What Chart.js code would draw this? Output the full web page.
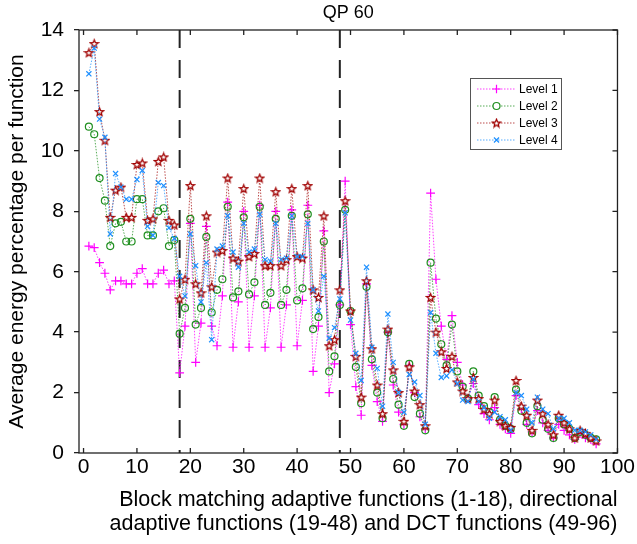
<!DOCTYPE html>
<html>
<head>
<meta charset="utf-8">
<title>QP 60</title>
<script src="https://cdn.jsdelivr.net/npm/chart.js@4.4.1/dist/chart.umd.min.js"></script>
<style>
  html, body { margin: 0; padding: 0; background: #fff; }
  #wrap { width: 637px; height: 544px; }
</style>
</head>
<body>
<div id="wrap"><canvas id="chart" width="637" height="544"></canvas></div>
<script>
// --- Data ---
const functionIndex = Array.from({ length: 96 }, (_, i) => i + 1);

const level1 = [
  6.85, 6.8, 6.3, 5.95, 5.4, 5.7, 5.7, 5.6, 5.6, 5.95, 6.1, 5.6, 5.6, 5.95, 6.05, 5.6, 5.7, 2.65,
  4.2, 7.6, 3.0, 4.3, 7.5, 4.2, 3.55, 5.2, 8.3, 3.5, 5.0, 8.0, 3.5, 5.2, 8.2, 3.5, 4.8, 8.0,
  3.5, 4.9, 8.05, 3.55, 5.05, 8.2, 2.7, 4.2, 7.35, 2.0, 2.95, 4.9,
  9.0, 4.25, 2.2, 1.25, 5.6, 2.9, 1.7, 1.05, 4.0, 2.25, 1.35, 0.95, 2.9, 2.0, 1.2, 0.8, 8.6, 5.75,
  4.2, 3.1, 4.55, 3.0, 2.25, 1.8, 2.3, 1.6, 1.3, 1.1, 1.5, 0.95, 0.8, 0.65, 1.9, 1.45, 0.95,
  0.7, 1.4, 1.0, 0.75, 0.5, 0.95, 0.75, 0.6, 0.45, 0.65, 0.5, 0.45, 0.3
];
const level2 = [
  10.8, 10.55, 9.1, 8.35, 6.85, 7.6, 7.65, 7.0, 7.0, 8.4, 8.4, 7.2, 7.2, 8.0, 8.1, 6.85, 7.05, 3.95,
  4.8, 7.75, 4.25, 4.8, 7.15, 4.65, 5.4, 5.75, 8.15, 5.15, 5.35, 7.8, 5.25, 5.65, 8.15, 4.9, 5.3, 7.75,
  4.9, 5.4, 7.85, 5.05, 5.45, 7.9, 4.1, 4.5, 7.0, 2.7, 3.2, 4.9,
  8.05, 4.7, 2.85, 1.65, 5.5, 3.1, 2.0, 1.15, 4.0, 2.45, 1.6, 0.9, 2.95, 1.85, 1.3, 0.75, 6.3, 4.45,
  3.6, 2.9, 4.25, 2.7, 2.2, 1.8, 2.7, 1.9, 1.55, 1.35, 1.85, 1.1, 0.9, 0.8, 2.1, 1.4, 1.0,
  0.65, 1.55, 1.1, 0.8, 0.5, 1.15, 0.95, 0.8, 0.5, 0.7, 0.6, 0.5, 0.45
];
const level3 = [
  13.25, 13.55, 11.3, 10.35, 7.8, 8.7, 8.8, 7.8, 7.8, 9.55, 9.6, 7.7, 7.75, 9.65, 9.8, 7.7, 7.55, 5.1,
  5.75, 8.85, 5.6, 5.3, 7.85, 5.5, 6.65, 6.7, 9.1, 6.45, 6.35, 8.75, 6.5, 6.6, 9.1, 6.2, 6.2, 8.65,
  6.2, 6.4, 8.75, 6.5, 6.45, 8.85, 5.4, 5.15, 7.85, 3.55, 3.75, 5.4,
  8.35, 4.7, 3.2, 1.85, 5.7, 3.45, 2.25, 1.3, 4.1, 2.75, 2.0, 1.05, 2.85, 2.05, 1.6, 0.9, 5.15, 4.0,
  3.35, 2.8, 3.2, 2.35, 2.05, 1.8, 2.5, 1.8, 1.45, 1.3, 1.75, 1.05, 0.9, 0.85, 2.4, 1.55, 1.25,
  0.75, 1.75, 1.3, 0.95, 0.6, 1.25, 1.0, 0.8, 0.5, 0.75, 0.65, 0.5, 0.4
];
const level4 = [
  12.55, 13.4, 11.05, 10.45, 7.25, 9.25, 8.8, 8.4, 8.4, 9.05, 9.35, 7.5, 7.2, 8.95, 8.85, 7.45, 7.1, 5.85,
  5.2, 7.25, 6.2, 5.0, 6.3, 3.75, 6.75, 6.85, 7.85, 6.65, 6.15, 7.6, 6.65, 6.75, 7.9, 6.4, 6.35, 7.6,
  6.4, 6.45, 7.85, 6.5, 6.5, 7.6, 5.4, 4.7, 5.85, 3.8, 4.15, 5.1,
  7.95, 4.4, 3.3, 2.4, 6.15, 3.5, 2.8, 1.55, 4.6, 3.0, 2.0, 1.35, 2.6, 2.35, 1.9, 0.95, 4.65, 3.3,
  2.5, 2.55, 2.75, 2.3, 1.75, 1.7, 2.45, 1.7, 1.5, 1.15, 1.35, 1.2, 1.1, 0.75, 2.0, 1.9, 1.45,
  1.0, 1.85, 1.45, 1.3, 0.8, 1.15, 1.15, 1.0, 0.75, 0.75, 0.7, 0.6, 0.45
];

const groupBounds = [18, 48];
const xTickValues = [0, 10, 20, 30, 40, 50, 60, 70, 80, 90, 100];
const yTickValues = [0, 2, 4, 6, 8, 10, 12, 14];

// --- Style ---
const fontFamily = "'Liberation Sans', Arial, Helvetica, sans-serif";
const axisColor = '#222';
const magenta = '#ff00ff', green = '#1f8f1f', darkRed = '#a00000', blue = '#1e90ff';

function starImage(color) {
    const size = 11;
    const c = document.createElement('canvas');
    c.width = size; c.height = size;
    const ctx = c.getContext('2d');
    const cx = size / 2, cy = size / 2 + 0.4, R = 4.1, r = 1.8;
    ctx.beginPath();
    for (let k = 0; k < 10; k++) {
        const rad = k % 2 ? r : R;
        const a = -Math.PI / 2 + k * Math.PI / 5;
        ctx.lineTo(cx + rad * Math.cos(a), cy + rad * Math.sin(a));
    }
    ctx.closePath();
    ctx.fillStyle = '#fff';
    ctx.fill();
    ctx.strokeStyle = color;
    ctx.lineWidth = 1.3;
    ctx.stroke();
    return c;
}
const starMarker = starImage(darkRed);

function toPoints(values) {
    return values.map((v, i) => ({ x: functionIndex[i], y: v }));
}

function levelDataset(label, values, color, lineColor, pointStyle, radius, order) {
    return {
        label: label,
        data: toPoints(values),
        borderColor: lineColor,
        borderWidth: 1,
        borderDash: [1.5, 1.5],
        pointStyle: pointStyle,
        pointRadius: radius,
        pointBorderColor: color,
        pointBackgroundColor: 'rgba(255,255,255,0)',
        pointBorderWidth: 1.2,
        tension: 0,
        fill: false,
        order: order,
        legendMarker: pointStyle,
        markerColor: color,
    };
}

const levelSets = [
    levelDataset('Level 1', level1, magenta, 'rgba(255,0,255,0.75)', 'cross', 4.4, 4),
    levelDataset('Level 2', level2, green, 'rgba(31,143,31,0.75)', 'circle', 3.5, 3),
    levelDataset('Level 3', level3, darkRed, 'rgba(160,0,0,0.7)', starMarker, 4.5, 2),
    levelDataset('Level 4', level4, blue, 'rgba(30,144,255,0.75)', 'crossRot', 3.6, 1),
];

const dividerSets = groupBounds.map(b => ({
    label: 'divider ' + b,
    data: [{ x: b, y: yTickValues[yTickValues.length - 1] }, { x: b, y: yTickValues[0] }],
    borderColor: axisColor,
    borderWidth: 2,
    borderDash: [18, 12],
    pointRadius: 0,
    fill: false,
    order: 10,
}));

// --- Marker helper for the legend ---
function drawMarker(ctx, ds, x, y) {
    const m = ds.legendMarker;
    ctx.save();
    ctx.strokeStyle = ds.markerColor;
    ctx.lineWidth = 1.2;
    ctx.beginPath();
    if (m === 'cross') {
        ctx.moveTo(x - 4.2, y); ctx.lineTo(x + 4.2, y);
        ctx.moveTo(x, y - 4.2); ctx.lineTo(x, y + 4.2);
        ctx.stroke();
    } else if (m === 'circle') {
        ctx.fillStyle = '#fff';
        ctx.arc(x, y, 3.5, 0, Math.PI * 2);
        ctx.fill(); ctx.stroke();
    } else if (m === 'crossRot') {
        const d = 3.6 * Math.SQRT1_2;
        ctx.moveTo(x - d, y - d); ctx.lineTo(x + d, y + d);
        ctx.moveTo(x - d, y + d); ctx.lineTo(x + d, y - d);
        ctx.stroke();
    } else {
        ctx.drawImage(m, x - m.width / 2, y - m.height / 2);
    }
    ctx.restore();
}

// --- Legend box inside the plot (top right) ---
const legendBoxPlugin = {
    id: 'legendBox',
    afterDraw(chart) {
        const ctx = chart.ctx;
        const box = { left: 470, top: 78, width: 91, height: 71 };
        ctx.save();
        ctx.fillStyle = '#fff';
        ctx.fillRect(box.left, box.top, box.width, box.height);
        ctx.strokeStyle = '#555';
        ctx.lineWidth = 1;
        ctx.strokeRect(box.left + 0.5, box.top + 0.5, box.width, box.height);
        ctx.font = '12px ' + fontFamily;
        ctx.textBaseline = 'middle';
        ctx.fillStyle = '#000';
        levelSets.forEach((ds, i) => {
            const y = box.top + 11 + i * 17;
            ctx.save();
            ctx.strokeStyle = ds.borderColor;
            ctx.lineWidth = 1;
            ctx.setLineDash([1.5, 1.5]);
            ctx.beginPath();
            ctx.moveTo(box.left + 7, y);
            ctx.lineTo(box.left + 46, y);
            ctx.stroke();
            ctx.restore();
            drawMarker(ctx, ds, box.left + 26.5, y);
            ctx.fillText(ds.label, box.left + 49, y + 0.5);
        });
        ctx.restore();
    }
};

// --- Frame with inward ticks on bottom, top and right ---
const framePlugin = {
    id: 'frame',
    afterDatasetsDraw(chart) {
        const { ctx, chartArea: a, scales: { x, y } } = chart;
        ctx.save();
        ctx.strokeStyle = axisColor;
        ctx.lineWidth = 1.3;
        ctx.strokeRect(a.left, a.top, a.right - a.left, a.bottom - a.top);
        ctx.beginPath();
        xTickValues.forEach(v => {
            const px = x.getPixelForValue(v);
            ctx.moveTo(px, a.bottom); ctx.lineTo(px, a.bottom - 5);
            ctx.moveTo(px, a.top); ctx.lineTo(px, a.top + 5);
        });
        yTickValues.forEach(v => {
            const py = y.getPixelForValue(v);
            ctx.moveTo(a.right, py); ctx.lineTo(a.right - 5, py);
        });
        ctx.stroke();
        ctx.restore();
    }
};

new Chart(document.getElementById('chart').getContext('2d'), {
    type: 'line',
    data: { datasets: [...levelSets, ...dividerSets] },
    options: {
        responsive: false,
        animation: false,
        events: [],
        layout: { padding: { left: 0, right: 17, top: 0, bottom: 0 } },
        plugins: {
            legend: { display: false },
            tooltip: { enabled: false },
            title: {
                display: true,
                text: 'QP 60',
                fullSize: false,
                color: '#000',
                font: { family: fontFamily, size: 18, weight: 'normal', lineHeight: 1.2 },
                padding: { top: 2, bottom: 6.4 }
            }
        },
        scales: {
            x: {
                type: 'linear',
                min: -0.85,
                max: 100,
                afterFit: s => { s.height = 91; },
                afterBuildTicks: s => { s.ticks = xTickValues.map(v => ({ value: v })); },
                grid: { display: false, drawTicks: false },
                border: { display: false },
                ticks: {
                    color: '#000',
                    padding: 2,
                    maxRotation: 0,
                    autoSkip: false,
                    font: { family: fontFamily, size: 21 }
                },
                title: {
                    display: true,
                    align: 'end',
                    text: ['Block matching adaptive functions (1-18), directional',
                           'adaptive functions (19-48) and DCT functions (49-96)'],
                    color: '#000',
                    font: { family: fontFamily, size: 21.5, lineHeight: 1.1 },
                    padding: { top: 0, bottom: 8 }
                }
            },
            y: {
                min: 0,
                max: 14,
                afterFit: s => { s.width = 79; },
                afterBuildTicks: s => { s.ticks = yTickValues.map(v => ({ value: v })); },
                grid: {
                    display: true,
                    drawOnChartArea: false,
                    drawTicks: true,
                    tickLength: 5,
                    color: axisColor,
                    lineWidth: 1.3
                },
                border: { display: false },
                ticks: {
                    color: '#000',
                    padding: 10,
                    font: { family: fontFamily, size: 21 }
                },
                title: {
                    display: true,
                    text: 'Average energy percentage per function',
                    color: '#000',
                    font: { family: fontFamily, size: 21, lineHeight: 1.2 },
                    padding: { top: 5, bottom: 0 }
                }
            }
        }
    },
    plugins: [framePlugin, legendBoxPlugin]
});
</script>
</body>
</html>
